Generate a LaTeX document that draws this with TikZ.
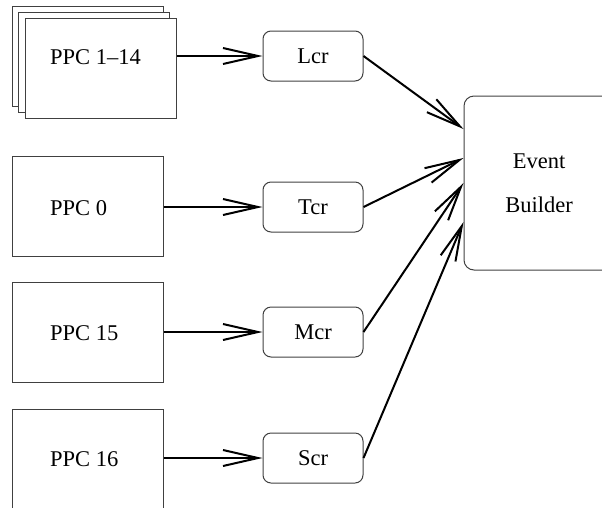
\documentclass[tikz,border=0pt]{standalone}
\usepackage{fontspec}
\setmainfont{Liberation Serif}
\usetikzlibrary{arrows.meta, positioning, calc}
\definecolor{boxgray}{HTML}{404040}

\begin{document}
\begin{tikzpicture}[x=1pt, y=-1pt,
    font=\fontsize{22.5}{27}\selectfont,
    ppcbox/.style={draw=boxgray, line width=1pt, fill=white, minimum width=151pt, minimum height=100pt, inner sep=0pt},
    crbox/.style={draw=boxgray, line width=1pt, rounded corners=8pt, minimum width=100pt, minimum height=50pt, inner sep=0pt},
    flow/.style={line width=2pt, -{Straight Barb[length=35pt, width=16pt, line width=2pt]}}]
  \useasboundingbox (0,0) rectangle (602,507);
  \clip (0,0) rectangle (602,507);
  % stacked PPCs
  \node[ppcbox] (back) at (87.5,56) {};
  \node[ppcbox] (mid) at (93.5,62) {};
  \node[ppcbox] (ppca) at (100.5,68) {};
  \node[anchor=west, inner sep=0pt] (ppcat) at (50,57) {PPC 1--14};
  \node[ppcbox] (ppcb) at (87.5,206.5) {};
  \node[anchor=west, inner sep=0pt] (ppcbt) at (50,208) {PPC 0};
  \node[ppcbox] (ppcc) at (87.5,332) {};
  \node[anchor=west, inner sep=0pt] (ppcct) at (50,333) {PPC 15};
  \node[ppcbox] (ppcd) at (87.5,459) {};
  \node[anchor=west, inner sep=0pt] (ppcdt) at (50,459) {PPC 16};
  % crates
  \node[crbox] (lcr) at (313,56) {Lcr};
  \node[crbox] (tcr) at (313,207) {Tcr};
  \node[crbox] (mcr) at (313,332) {Mcr};
  \node[crbox] (scr) at (313,458) {Scr};
  \node[draw=boxgray, line width=1pt, rounded corners=10pt, minimum width=150pt, minimum height=174pt,
        align=center, font=\fontsize{22.5}{44}\selectfont] (eb) at (539,183) {Event\\Builder};
  \draw[flow] (ppca.east |- lcr) -- (lcr);
  \draw[flow] (ppcb.east |- tcr) -- (tcr);
  \draw[flow] (ppcc.east |- mcr) -- (mcr);
  \draw[flow] (ppcd.east |- scr) -- (scr);
  \draw[flow] (lcr.east) -- (eb.west |- 0,129);
  \draw[flow] (tcr.east) -- (eb.west |- 0,158);
  \draw[flow] (mcr.east) -- (eb.west |- 0,183);
  \draw[flow] (scr.east) -- (eb.west |- 0,222);
\end{tikzpicture}
\end{document}
